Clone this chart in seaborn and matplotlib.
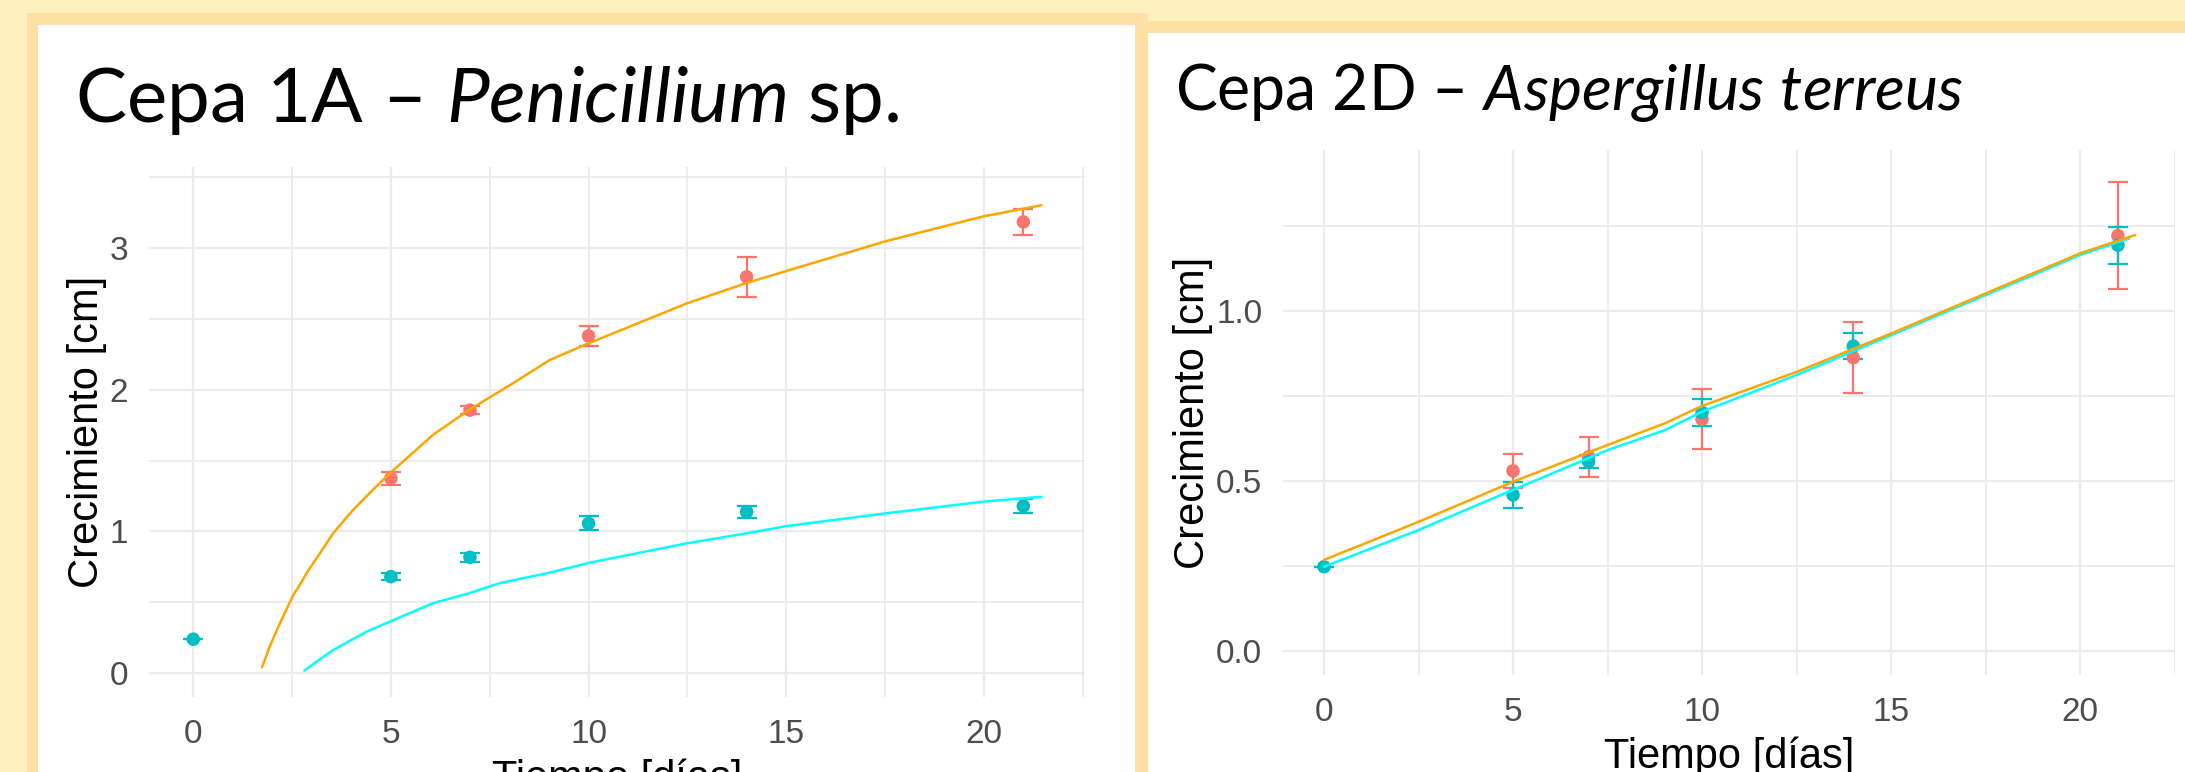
import matplotlib
matplotlib.use("Agg")
import matplotlib.pyplot as plt
from matplotlib.patches import Rectangle
import pandas as pd
import seaborn as sns


# Cepa 1A - Penicillium sp.
t_1a_rojo = [5, 7, 10, 14, 21]
y_1a_rojo = [1.374, 1.856, 2.38, 2.797, 3.185]
e_1a_rojo = [0.045, 0.03, 0.073, 0.14, 0.09]
t_1a_cian = [0, 5, 7, 10, 14, 21]
y_1a_cian = [0.238, 0.68, 0.816, 1.056, 1.138, 1.179]
e_1a_cian = [0.0, 0.026, 0.03, 0.05, 0.043, 0.047]

# ajustes
fit_1a_t_naranja = [1.74, 1.94, 2.19, 2.36, 2.53, 2.69, 2.90, 3.12, 3.54, 3.79, 4.04, 4.55,
                    4.97, 6.06, 6.97, 8.08, 9.01, 10.02, 12.48, 14.0, 15.01, 17.52, 20.0, 21.46]
fit_1a_y_naranja = [0.04, 0.19, 0.35, 0.45, 0.55, 0.62, 0.72, 0.81, 0.986, 1.07, 1.150, 1.295,
                    1.409, 1.680, 1.856, 2.044, 2.209, 2.33, 2.609, 2.754, 2.839, 3.049, 3.225, 3.303]
fit_1a_t_cian = [2.81, 3.12, 3.54, 4.38, 4.97, 6.06, 6.97, 7.74, 9.01, 10.02, 12.48, 14.0,
                 15.01, 17.52, 20.0, 21.46]
fit_1a_y_cian = [0.016, 0.08, 0.162, 0.291, 0.362, 0.492, 0.562, 0.633, 0.708, 0.778, 0.915, 0.986,
                 1.037, 1.127, 1.21, 1.244]

# Cepa 2D - Aspergillus terreus
t_2d_rojo = [5, 7, 10, 14, 21]
y_2d_rojo = [0.530, 0.571, 0.682, 0.863, 1.222]
e_2d_rojo = [0.05, 0.058, 0.088, 0.104, 0.157]
t_2d_cian = [0, 5, 7, 10, 14, 21]
y_2d_cian = [0.248, 0.459, 0.557, 0.702, 0.897, 1.194]
e_2d_cian = [0.0, 0.037, 0.02, 0.04, 0.038, 0.054]

fit_2d_t_naranja = [0, 2.5, 5, 7.5, 9.02, 10, 12.5, 15, 17.5, 20, 21.46]
fit_2d_y_naranja = [0.268, 0.380, 0.498, 0.606, 0.670, 0.721, 0.821, 0.934, 1.052, 1.170, 1.224]
fit_2d_t_cian = [0, 2.5, 5, 7.5, 9.02, 10, 12.5, 15, 17.5, 20, 21.3]
fit_2d_y_cian = [0.248, 0.356, 0.474, 0.591, 0.650, 0.704, 0.812, 0.929, 1.047, 1.165, 1.214]

ROJO = "#F8766D"
CIAN = "#00BFC4"
W, H = 2185, 772

sns.set_style("white")
plt.rcParams["font.family"] = ["Liberation Sans", "DejaVu Sans"]
plt.rcParams["mathtext.fontset"] = "custom"
plt.rcParams["mathtext.rm"] = "Lato"
plt.rcParams["mathtext.it"] = "Lato:italic"

fig = plt.figure(figsize=(W / 100, H / 100), dpi=100)
fig.patch.set_facecolor("#FFF1BE")


def rect(x0, y0, x1, y1, color):
    # coordenadas en pixeles desde arriba a la izquierda
    fig.patches.append(Rectangle((x0 / W, 1 - y1 / H), (x1 - x0) / W, (y1 - y0) / H,
                                 transform=fig.transFigure, facecolor=color,
                                 edgecolor="none", zorder=-5))


# tarjetas
rect(27, 13, 1148, 800, "#FFE0A4")
rect(38, 25, 1135, 800, "white")
rect(1148, 21, 2185, 800, "#FFE0A4")
rect(1148, 33, 2185, 800, "white")


def panel(box, t_r, y_r, e_r, t_c, y_c, e_c, ft_n, fy_n, ft_c, fy_c,
          xlim, ylim, yticks, ylabels, yminor):
    x0, y0, x1, y1 = box
    ax = fig.add_axes([x0 / W, 1 - y1 / H, (x1 - x0) / W, (y1 - y0) / H])
    ax.set_facecolor("white")

    pts = pd.DataFrame({
        "t": t_r + t_c,
        "y": y_r + y_c,
        "grupo": ["r"] * len(t_r) + ["c"] * len(t_c),
    })
    ax.errorbar(t_r, y_r, yerr=e_r, fmt="none", ecolor=ROJO, elinewidth=1.6,
                capsize=7, capthick=1.6, zorder=2)
    ax.errorbar(t_c, y_c, yerr=e_c, fmt="none", ecolor=CIAN, elinewidth=1.6,
                capsize=7, capthick=1.6, zorder=2)
    sns.scatterplot(data=pts, x="t", y="y", hue="grupo",
                    palette={"r": ROJO, "c": CIAN}, s=95, linewidth=0,
                    legend=False, ax=ax, zorder=3)

    fits = pd.DataFrame({
        "t": ft_c + ft_n,
        "y": fy_c + fy_n,
        "curva": ["cian"] * len(ft_c) + ["naranja"] * len(ft_n),
    })
    sns.lineplot(data=fits, x="t", y="y", hue="curva", hue_order=["cian", "naranja"],
                 palette={"cian": "#00FFFF", "naranja": "#FFA500"}, estimator=None,
                 linewidth=1.8, legend=False, ax=ax, zorder=4)

    ax.set_xlim(*xlim)
    ax.set_ylim(*ylim)
    ax.set_xticks([0, 5, 10, 15, 20])
    ax.set_xticks([2.5, 7.5, 12.5, 17.5, 22.5], minor=True)
    ax.set_yticks(yticks)
    ax.set_yticklabels(ylabels)
    ax.set_yticks(yminor, minor=True)
    ax.grid(which="major", color="#EBEBEB", linewidth=1.6)
    ax.grid(which="minor", color="#EBEBEB", linewidth=1.3)
    ax.set_axisbelow(True)
    for s in ax.spines.values():
        s.set_visible(False)
    ax.tick_params(which="both", length=0, labelsize=24, labelcolor="#4D4D4D")
    ax.tick_params(axis="x", pad=16)
    ax.tick_params(axis="y", pad=15)
    ax.set_xlabel("Tiempo [días]", fontsize=30, color="black", labelpad=6)
    ax.set_ylabel("Crecimiento [cm]", fontsize=30, color="black", labelpad=2)
    return ax


panel((149, 167, 1085, 697), t_1a_rojo, y_1a_rojo, e_1a_rojo, t_1a_cian, y_1a_cian, e_1a_cian,
      fit_1a_t_naranja, fit_1a_y_naranja, fit_1a_t_cian, fit_1a_y_cian,
      (-1.12, 22.56), (-0.17, 3.573), [0, 1, 2, 3], ["0", "1", "2", "3"], [0.5, 1.5, 2.5, 3.5])

panel((1283, 150, 2175, 675), t_2d_rojo, y_2d_rojo, e_2d_rojo, t_2d_cian, y_2d_cian, e_2d_cian,
      fit_2d_t_naranja, fit_2d_y_naranja, fit_2d_t_cian, fit_2d_y_cian,
      (-1.085, 22.51), (-0.0706, 1.474), [0, 0.5, 1.0], ["0.0", "0.5", "1.0"], [0.25, 0.75, 1.25])

fig.text(75 / W, 1 - 121.7 / H, "Cepa 1A – $\\mathit{Penicillium}$ sp.",
         fontsize=55, family="Lato", color="black", va="baseline", ha="left")
fig.text(1175 / W, 1 - 110 / H, "Cepa 2D – $\\mathit{Aspergillus\\ terreus}$",
         fontsize=45, family="Lato", color="black", va="baseline", ha="left")

fig.savefig("out.png", dpi=100)
